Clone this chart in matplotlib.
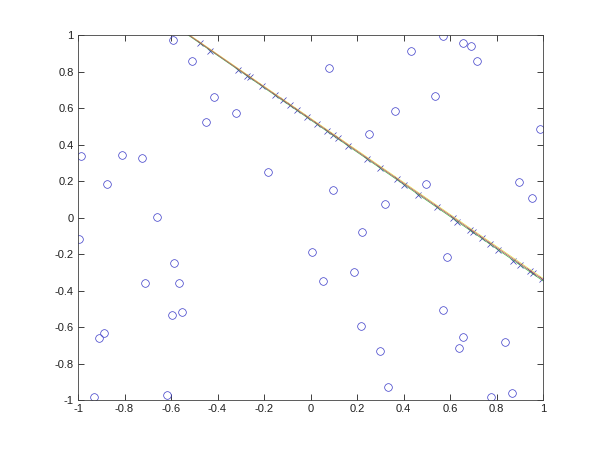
import matplotlib
matplotlib.use("Agg")
import matplotlib.pyplot as plt

# outliers (circles)
out_x = [-0.591, -0.510, -0.415, -0.449, -0.320, -0.987, -0.811, -0.725, -0.875, -0.183,
         -0.660, 0.570, 0.656, 0.690, 0.716, 0.432, 0.080, 0.535, 0.363, 0.252,
         0.987, 0.497, 0.897, 0.953, 0.097, 0.320, -0.996, -0.587, -0.712, -0.566,
         -0.596, -0.553, -0.910, -0.888, -0.931, -0.617, 0.222, 0.006, 0.187, 0.054,
         0.587, 0.570, 0.217, 0.656, 0.639, 0.837, 0.299, 0.333, 0.776, 0.867]
out_y = [0.975, 0.858, 0.660, 0.523, 0.573, 0.337, 0.342, 0.326, 0.184, 0.249,
         0.003, 0.995, 0.956, 0.940, 0.858, 0.912, 0.819, 0.666, 0.584, 0.458,
         0.485, 0.184, 0.195, 0.107, 0.151, 0.074, -0.118, -0.249, -0.359, -0.359,
         -0.534, -0.518, -0.660, -0.633, -0.984, -0.973, -0.079, -0.189, -0.299, -0.348,
         -0.216, -0.507, -0.595, -0.655, -0.715, -0.682, -0.732, -0.929, -0.984, -0.962]

# inliers (crosses)
in_x = [-0.475, -0.432, -0.312, -0.273, -0.260, -0.209, -0.153, -0.118, -0.088, -0.058,
        -0.015, 0.028, 0.071, 0.097, 0.118, 0.161, 0.243, 0.299, 0.372, 0.402,
        0.462, 0.544, 0.613, 0.630, 0.686, 0.699, 0.738, 0.772, 0.806, 0.871,
        0.901, 0.944, 0.957, 0.996]
in_y = [0.956, 0.912, 0.808, 0.775, 0.770, 0.721, 0.671, 0.644, 0.616, 0.589,
        0.551, 0.512, 0.474, 0.452, 0.436, 0.392, 0.321, 0.271, 0.211, 0.178,
        0.123, 0.058, -0.003, -0.025, -0.068, -0.079, -0.112, -0.145, -0.178, -0.238,
        -0.260, -0.293, -0.304, -0.337]

# fitted lines, endpoints at x=-1 and x=1
line_x = [-1, 1]
line_red = [1.420, -0.340]
line_green = [1.418, -0.347]
line_yellow = [1.422, -0.333]

ticks = [-1, -0.8, -0.6, -0.4, -0.2, 0, 0.2, 0.4, 0.6, 0.8, 1]
tick_labels = ['-1', '-0.8', '-0.6', '-0.4', '-0.2', '0', '0.2', '0.4', '0.6', '0.8', '1']

fig = plt.figure(figsize=(6, 4.5), dpi=100)
ax = fig.add_axes([0.13, 0.111, 0.775, 0.811])

ax.plot(out_x, out_y, 'o', mfc='none', mec='#3a3ac8', ms=5.5, mew=0.5)
ax.plot(in_x, in_y, 'x', color='#3a3ab8', ms=4.5, mew=0.5)
ax.plot(line_x, line_yellow, color='#e0e040', lw=0.5)
ax.plot(line_x, line_green, color='#40b040', lw=0.5)
ax.plot(line_x, line_red, color='#b04060', lw=0.5)

ax.set_xlim(-1, 1)
ax.set_ylim(-1, 1)
ax.set_xticks(ticks)
ax.set_xticklabels(tick_labels)
ax.set_yticks(ticks)
ax.set_yticklabels(tick_labels)
ax.tick_params(direction='in', length=4, width=0.6, top=True, right=True,
               labelsize=8, colors='#202020', pad=3)
for s in ax.spines.values():
    s.set_linewidth(0.6)
    s.set_color('#404040')
for lab in ax.get_xticklabels() + ax.get_yticklabels():
    lab.set_family('Liberation Sans')

fig.savefig('out.png', dpi=100)
